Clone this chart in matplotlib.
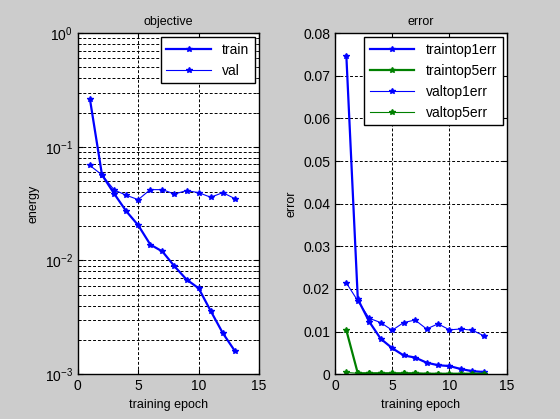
import matplotlib.pyplot as plt
from matplotlib.ticker import LogLocator, NullFormatter

plt.rcParams['font.family'] = ['Liberation Sans', 'DejaVu Sans']
plt.rcParams['mathtext.fontset'] = 'custom'
plt.rcParams['mathtext.rm'] = 'Liberation Sans'

epochs = list(range(1, 14))

# objective
train_obj = [0.263, 0.0566, 0.0388, 0.0272, 0.0204, 0.0138, 0.0120,
             0.0089, 0.0068, 0.0057, 0.0036, 0.0023, 0.0016]
val_obj = [0.0685, 0.0566, 0.0418, 0.0375, 0.0343, 0.0420, 0.0420,
           0.0384, 0.0412, 0.0395, 0.0360, 0.0395, 0.0350]

# error
train_top1 = [0.0747, 0.0176, 0.0123, 0.0083, 0.0061, 0.0044, 0.0039,
              0.0027, 0.0021, 0.0019, 0.0012, 0.0007, 0.0005]
train_top5 = [0.0103, 0.0002, 0.0002, 0.0002, 0.0002, 0.0002, 0.0002,
              0.0001, 0.0001, 0.0001, 0.0001, 0.0001, 0.0001]
val_top1 = [0.0214, 0.0172, 0.0131, 0.0121, 0.0103, 0.0121, 0.0127,
            0.0106, 0.0118, 0.0104, 0.0106, 0.0103, 0.0090]
val_top5 = [0.0004, 0.0002, 0.0002, 0.0002, 0.0002, 0.0002, 0.0002,
            0.0001, 0.0001, 0.0001, 0.0001, 0.0001, 0.0001]

fig = plt.figure(figsize=(5.6, 4.19), dpi=100, facecolor='#cccccc')
ax1 = fig.add_axes([0.139, 0.107, 0.3235, 0.814])
ax2 = fig.add_axes([0.598, 0.107, 0.307, 0.814])

blue = '#0000ff'
green = '#008000'
mk = dict(marker='*', markersize=4)

# left: objective
ax1.semilogy(epochs, train_obj, color=blue, lw=1.6, label='train', **mk)
ax1.semilogy(epochs, val_obj, color=blue, lw=0.8, label='val', **mk)
ax1.set_xlim(0, 15)
ax1.set_ylim(1e-3, 1)
ax1.set_xticks([0, 5, 10, 15])
ax1.yaxis.set_minor_locator(LogLocator(base=10, subs=range(2, 10)))
ax1.yaxis.set_minor_formatter(NullFormatter())
ax1.grid(True, which='both', axis='y', linestyle=(0, (3, 2)), color='k', lw=0.7)
ax1.grid(True, which='major', axis='x', linestyle=(0, (3, 2)), color='k', lw=0.7)
ax1.set_title('objective', fontsize=9)
ax1.set_xlabel('training epoch', fontsize=9)
ax1.set_ylabel('energy', fontsize=9)
ax1.legend(loc='upper right', fancybox=False, framealpha=1, edgecolor='k',
           fontsize=10, handlelength=3.2, borderaxespad=0.3)

# right: error
ax2.plot(epochs, train_top1, color=blue, lw=1.6, label='traintop1err', **mk)
ax2.plot(epochs, train_top5, color=green, lw=1.6, label='traintop5err', **mk)
ax2.plot(epochs, val_top1, color=blue, lw=0.8, label='valtop1err', **mk)
ax2.plot(epochs, val_top5, color=green, lw=0.8, label='valtop5err', **mk)
ax2.set_xlim(0, 15)
ax2.set_ylim(0, 0.08)
ax2.set_xticks([0, 5, 10, 15])
ax2.set_yticks([0, 0.01, 0.02, 0.03, 0.04, 0.05, 0.06, 0.07, 0.08])
ax2.set_yticklabels(['0', '0.01', '0.02', '0.03', '0.04', '0.05', '0.06', '0.07', '0.08'])
ax2.grid(True, linestyle=(0, (3, 2)), color='k', lw=0.7)
ax2.set_title('error', fontsize=9)
ax2.set_xlabel('training epoch', fontsize=9)
ax2.set_ylabel('error', fontsize=9)
ax2.legend(loc='upper right', fancybox=False, framealpha=1, edgecolor='k',
           fontsize=10, handlelength=3.2, borderaxespad=0.3)

for ax in (ax1, ax2):
    ax.set_facecolor('white')
    ax.set_axisbelow(True)
    ax.tick_params(which='both', direction='in', top=True, right=True,
                   labelsize=10, colors='k')
    for s in ax.spines.values():
        s.set_color('k')
        s.set_linewidth(1)

fig.savefig('out.png', dpi=100, facecolor=fig.get_facecolor())
